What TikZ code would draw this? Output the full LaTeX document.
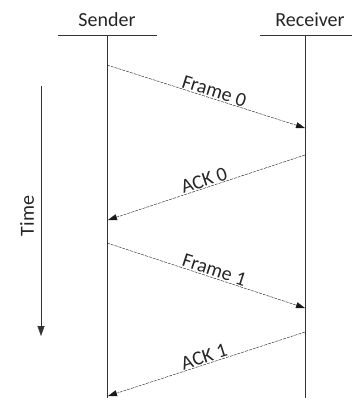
\documentclass[tikz,border=0pt]{standalone}
\usepackage{fontspec}
\setmainfont{Carlito}
\usetikzlibrary{arrows.meta,positioning}

\begin{document}
\begin{tikzpicture}[x=1pt,y=-1pt,
  msg/.style={-{Triangle[length=9pt,width=6pt]}, dash pattern=on 3pt off 1pt, black!90},
  life/.style={black!80},
  lbl/.style={font=\fontsize{20}{24}\selectfont, text=black!85, inner sep=1pt}]
  \useasboundingbox (0,0) rectangle (352,401);
  % headers and lifelines
  \node[lbl, anchor=base] (sender) at (107,27) {Sender};
  \node[lbl, anchor=base] (receiver) at (310,27) {Receiver};
  \coordinate (shl) at (58,35);  \coordinate (shr) at (157,35);
  \coordinate (rhl) at (260,35); \coordinate (rhr) at (352,35);
  \draw[life] (shl) -- (shr);
  \draw[life] (rhl) -- (rhr);
  \coordinate (stop) at (107,35); \coordinate (sbot) at (107,398);
  \coordinate (rtop) at (305,35); \coordinate (rbot) at (305,398);
  \draw[life] (stop) -- (sbot);
  \draw[life] (rtop) -- (rbot);
  % messages
  \coordinate (f0s) at (107,65);  \coordinate (f0r) at (305,128);
  \coordinate (a0r) at (305,155); \coordinate (a0s) at (108,220);
  \coordinate (f1s) at (107,243); \coordinate (f1r) at (305,308);
  \coordinate (a1r) at (305,332); \coordinate (a1s) at (108,396);
  \draw[msg] (f0s) -- node[lbl, sloped, above, pos=0.53] {Frame 0} (f0r);
  \draw[msg] (a0r) -- node[lbl, sloped, above, pos=0.5] {ACK 0} (a0s);
  \draw[msg] (f1s) -- node[lbl, sloped, above, pos=0.53] {Frame 1} (f1r);
  \draw[msg] (a1r) -- node[lbl, sloped, above, pos=0.5] {ACK 1} (a1s);
  % time axis
  \coordinate (tbeg) at (41,86); \coordinate (tend) at (41,336);
  \draw[life, -{Triangle[length=10pt,width=7pt]}] (tbeg) -- (tend);
  \node[lbl, rotate=90] (time) at (27,216) {Time};
\end{tikzpicture}
\end{document}
